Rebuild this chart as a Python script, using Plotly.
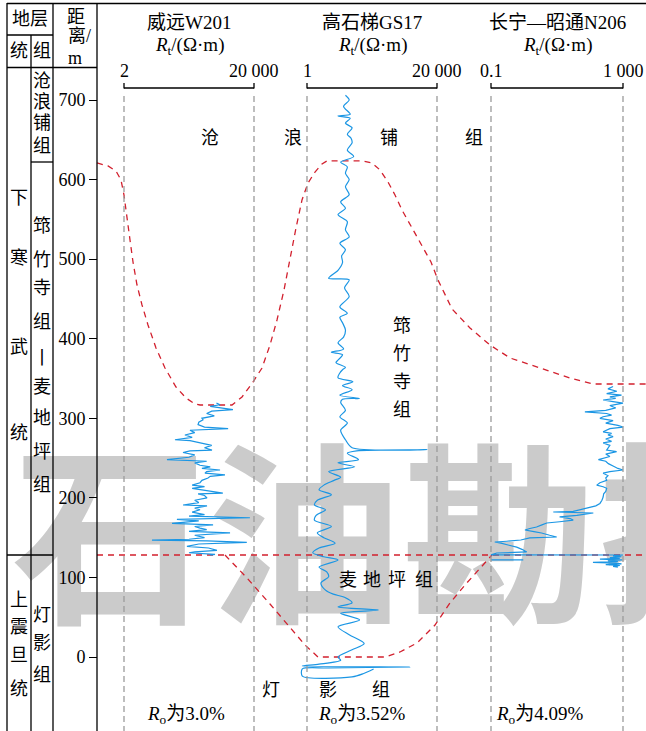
import math
import plotly.graph_objects as go

W, H = 646, 731

# ---------------- data ----------------
# Well logs: (depth in m, Rt in ohm·m)
W201 = [(319,1400),(317,1800),(315,900),(311,4500),(309,1000),(306,700),(303,1200),(300,500),(298,540),
        (295,400),(292,380),(289,600),(287,3200),(285,215),(282,300),(279,150),(276,250),(273,74),(272,215),
        (270,350),(268,500),(266,1000),(263,600),(260,1020),(259,215),(257,131),(254,300),(251,200),(248,42),
        (247,215),(246,700),(244,300),(241,436),(239,900),(237,500),(235,1800),(233,700),(231,620),(229,2560),
        (227,900),(225,770),(222,500),(219,436),(216,250),(214,600),(212,250),(209,800),(206,2200),(205,380),
        (203,600),(200,716),(197,300),(194,400),(191,131),(190,716),(187,300),(185,436),(182,250),(179,600),
        (177,200),(175,15000),(173,85),(171,400),(168,60),(166,1100),(164,300),(162,436),(160,700),(158,200),
        (156,3660),(153,300),(150,600),(148,200),(147,14.5),(146,716),(144,12000),(142,400),(139,173),(137,800),
        (134,1450),(132,300),(131,200),(129,1260),(128,900)]

GS17 = [(706,18.7),(700,24.9),(692,16.2),(682,27),(680,10.6),(677,27),(671,18.7),(665,31),(657,21.6),
        (652,28.7),(646,31),(637,21.6),(629,35),(622,13),(616,21.6),(608,18.7),(600,24.9),(591,18.7),
        (581,24.9),(572,13),(564,18.7),(556,10.6),(547,21.6),(537,18.7),(528,24.9),(520,12.2),(512,18.7),
        (504,14),(496,15),(486,10.6),(476,5.2),(474,24.9),(464,17.4),(453,24.9),(440,12.2),(432,21.6),
        (427,12.2),(420,15),(411,18.7),(402,16.2),(395,10.6),(387,16.2),(383,6.4),(380,15),(373,10.6),
        (370,9.1),(364,18.7),(361,15),(357,12.2),(351,10.6),(346,33),(341,15),(336,31),(329,12.2),(325,55),
        (324,15),(320,13),(310,18.7),(302,12.2),(294,21.6),(285,13),(273,18.7),(263,31),(260.5,9300),
        (259,44),(256,21.6),(248,50.8),(244,10.6),(239,38),(233,5.2),(226,13),(222,7.9),(216,3.6),(210,2.5),
        (204,6.4),(197,2.2),(191,1.77),(185,4.1),(178,2.0),(172,1.77),(164,6.4),(156,2.2),(150,3.6),
        (143,8.5),(137,2.5),(131,1.55),(126,3.6),(122,10.6),(113,2.5),(107,4.5),(101,5.2),(93,2.9),(84,4.1),
        (79,7.4),(75,17.4),(68,31),(63,10.6),(59,230),(55,13),(46.5,55),(38,10.6),(28,24.9),(17,78),(9,31),
        (0,10.6),(-4,13),(-9,2.5),(-11.3,0.7),(-12.6,2500),(-13.8,5.2),(-15,0.7),(-24,0.7),(-25,31),
        (-21,72),(-15,160)]

N206 = [(340,500),(337,350),(334,650),(331,320),(329,900),(327,400),(325,600),(323,250),(321,500),(319,1000),
        (316,400),(313,600),(310,300),(308,70),(306,320),(304,450),(302,250),(300,200),(297,500),(294,300),
        (291,700),(289,1000),(287,400),(285,300),(283,250),(281,450),(279,350),(277,500),(274,300),(271,450),
        (269,250),(266,400),(263,350),(260,320),(258,640),(255,300),(252,400),(250,250),(248,180),(246,300),
        (243,360),(240,500),(237,700),(235,1000),(233,400),(231,250),(228,350),(225,300),(222,320),(219,200),
        (216,160),(214,250),(212,320),(208,300),(205,260),(201,250),(197,230),(193,200),(190,150),(187,79),
        (185,45),(183,31),(182.2,7.7),(181,126),(178,40),(176,12),(174,25),(172,31),(170,12),(168.4,4.9),
        (166,3.5),(163.4,2.4),(161.5,1.5),(159.6,1.07),(157.5,2.0),(155.8,3.4),(153,6),(150.8,9.8),
        (149.6,1.5),(147,0.8),(145.5,0.3),(144.5,0.13),(143,0.2),(140.8,0.33),(138,0.6),(135,0.9),(132,1.2),
        (130.7,0.15),(129,0.11),(128.4,0.1),(128.2,1000),(127,500),(126,900),(125,400),(124,800),(123,200),
        (122,950),(121,350),(120,700),(119,123),(118,600),(117,900),(116,300),(115,800),(114,500),(113,700)]
N206_stub = [(122,0.1),(122,0.95)]

# Correlation boundaries along the section (section position 0-646, depth m)
top_qzs_x = [97,108,116,121,124,127,130,133,137,142,148,156,165,176,186,195,200,232,242,253,262,270,277,284,
             290,296,302,308,315,322,327,363,372,380,388,395,402,412,422,431,438,445,452,470,490,510,540,570,593,646]
top_qzs_d = [620.9,617.1,610.8,599.5,580.6,555.5,524.1,496.4,467.5,442.4,417.3,388.4,363.2,339.3,325.5,318.0,
             316.7,316.7,326.8,345.6,363.2,392.1,423.5,461.2,501.5,539.2,574.4,595.7,609.5,619.6,623.4,623.4,
             620.9,612.1,597.0,580.6,561.8,539.2,517.8,496.4,473.8,455.0,437.4,413.5,392.1,375.8,363.2,350.6,
             343.1,343.1]
top_dy_flat_x = [97, 646]
top_dy_flat_d = [128.2, 128.2]
top_dy_gs_x = [225,247,270,290,305,318,385,400,417,435,450,465,478,492]
top_dy_gs_d = [128.2,99.3,66.6,36.4,15.1,0,0,6.3,17.6,40.2,67.9,90.5,109.3,128.2]

tracks = [
    dict(name="威远W201", lo=2, hi=20000, L=124, R=254, lo_lbl="2", hi_lbl="20 000",
         ro="<i>R</i><sub>o</sub>为3.0%", data=W201, shape="linear"),
    dict(name="高石梯GS17", lo=1, hi=20000, L=307, R=437, lo_lbl="1", hi_lbl="20 000",
         ro="<i>R</i><sub>o</sub>为3.52%", data=GS17, shape="spline"),
    dict(name="长宁—昭通N206", lo=0.1, hi=1000, L=491, R=623, lo_lbl="0.1", hi_lbl="1 000",
         ro="<i>R</i><sub>o</sub>为4.09%", data=N206, shape="linear"),
]
depth_ticks = [0, 100, 200, 300, 400, 500, 600, 700]

# ---------------- layout helpers ----------------
Y0_PX, PX_PER_M = 657, 0.7957
y_range = [-(H - Y0_PX) / PX_PER_M, Y0_PX / PX_PER_M]
PAD = 14
FONT = "Liberation Serif, Noto Sans CJK SC"
BLUE = "#1b96e4"
RED = "#d2202e"
GRAY = "#9b9b9b"


def px(x):
    return x / W


def py(y):
    return 1 - y / H


fig = go.Figure()

# section axis "x" (first subplot -> drawn beneath the well tracks)
fig.add_trace(go.Scatter(x=[402], y=[(Y0_PX - 560) / PX_PER_M], mode="text", text=["石油勘探"],
                         textposition="middle center", xaxis="x", yaxis="y", hoverinfo="skip",
                         textfont=dict(size=195, color="#cbcbcb", family="Noto Sans CJK SC", weight="bold")))
for xs, ds in [(top_qzs_x, top_qzs_d), (top_dy_flat_x, top_dy_flat_d), (top_dy_gs_x, top_dy_gs_d)]:
    fig.add_trace(go.Scatter(x=xs, y=ds, mode="lines", xaxis="x", yaxis="y",
                             line=dict(color=RED, width=1.3, dash="6px,5px"), hoverinfo="skip"))

layout_axes = {"xaxis": dict(domain=[0, 1], range=[0, W], visible=False, anchor="y", fixedrange=True)}
shapes = []
annotations = []
for i, t in enumerate(tracks):
    ax = f"x{i+2}"
    axkey = f"xaxis{i+2}"
    lg0, lg1 = math.log10(t["lo"]), math.log10(t["hi"])
    ppd = (t["R"] - t["L"]) / (lg1 - lg0)
    layout_axes[axkey] = dict(type="log", domain=[px(t["L"] - PAD), px(t["R"] + PAD)],
                              range=[lg0 - PAD / ppd, lg1 + PAD / ppd], visible=False,
                              anchor="y", fixedrange=True)
    flo = PAD / (t["R"] - t["L"] + 2 * PAD)
    fhi = 1 - flo
    dref = f"{ax} domain"
    d, r = zip(*t["data"])
    line = dict(color=BLUE, width=1.2, shape=t["shape"])
    if t["shape"] == "spline":
        line["smoothing"] = 0.8
    fig.add_trace(go.Scatter(x=list(r), y=list(d), mode="lines", xaxis=ax, yaxis="y",
                             line=line, hoverinfo="skip"))
    if i == 2:
        d2, r2 = zip(*N206_stub)
        fig.add_trace(go.Scatter(x=list(r2), y=list(d2), mode="lines", xaxis=ax, yaxis="y",
                                 line=dict(color=BLUE, width=1.2), hoverinfo="skip"))
    # dashed track limits
    for f in (flo, fhi):
        shapes.append(dict(type="line", xref=dref, yref="paper", x0=f, x1=f, y0=py(96), y1=py(731),
                           line=dict(color=GRAY, width=1.3, dash="6px,4px")))
        shapes.append(dict(type="line", xref=dref, yref="paper", x0=f, x1=f, y0=py(83), y1=py(88.5),
                           line=dict(color="black", width=1.3)))
    shapes.append(dict(type="line", xref=dref, yref="paper", x0=flo, x1=fhi, y0=py(88), y1=py(88),
                       line=dict(color="black", width=1.3)))
    annotations += [
        dict(text=t["lo_lbl"], xref=dref, yref="paper", x=flo, y=py(71), size=18),
        dict(text=t["hi_lbl"], xref=dref, yref="paper", x=fhi, y=py(71), size=18),
        dict(text=t["name"], xref=dref, yref="paper", x=0.5, y=py(23), size=19),
        dict(text="<i>R</i><sub>t</sub>/(Ω·m)", xref=dref, yref="paper", x=0.5, y=py(46), size=19),
    ]

# Ro labels
for xx, t in zip([186, 362, 540], tracks):
    annotations.append(dict(text=t["ro"], xref="paper", yref="paper", x=px(xx), y=py(715), size=19))

# frame / stratigraphic column lines
BL = dict(color="black", width=1.3)
for (x0, y0, x1, y1) in [(7, 3.5, 646, 3.5), (7, 3, 7, 731), (31, 35, 31, 731), (53, 3, 53, 731),
                         (97, 3, 97, 731), (7, 35, 53, 35), (7, 67.5, 97, 67.5), (31, 162, 53, 162),
                         (7, 555, 53, 555)]:
    shapes.append(dict(type="line", xref="paper", yref="paper", x0=px(x0), x1=px(x1),
                       y0=py(y0), y1=py(y1), line=BL))

# column texts
col_text = [("地层", 30, 19), ("统", 19, 51), ("组", 42, 51), ("距", 76, 17), ("离/", 79, 36), ("m", 75, 58),
            ("沧", 42, 81), ("浪", 42, 102), ("铺", 42, 123), ("组", 42, 146),
            ("筇", 42, 226), ("竹", 42, 260), ("寺", 42, 288), ("组", 42, 322), ("丨", 42, 358),
            ("麦", 42, 387), ("地", 42, 418), ("坪", 42, 452), ("组", 42, 485),
            ("灯", 42, 615), ("影", 42, 643), ("组", 42, 675),
            ("下", 19, 198), ("寒", 19, 258), ("武", 19, 347), ("统", 19, 433),
            ("上", 19, 600), ("震", 19, 627), ("旦", 19, 655), ("统", 19, 689),
            # in-plot formation names
            ("沧", 210, 138), ("浪", 293, 138), ("铺", 389, 138), ("组", 474, 138),
            ("筇", 402, 326), ("竹", 402, 354), ("寺", 402, 382), ("组", 402, 410),
            ("麦", 348, 580), ("地", 372, 580), ("坪", 397, 580), ("组", 424, 580),
            ("灯", 271, 690), ("影", 328, 690), ("组", 381, 690)]
for txt, xx, yy in col_text:
    annotations.append(dict(text=txt, xref="paper", yref="paper", x=px(xx), y=py(yy), size=18))

for a in annotations:
    s = a.pop("size")
    a.update(showarrow=False, xanchor="center", yanchor="middle",
             font=dict(family=FONT, size=s, color="black"))

fig.update_layout(
    width=W, height=H, margin=dict(l=0, r=0, t=0, b=0),
    paper_bgcolor="white", plot_bgcolor="rgba(0,0,0,0)", showlegend=False,
    yaxis=dict(range=y_range, domain=[0, 1], anchor="free", position=px(97), side="left",
               tickvals=depth_ticks, ticks="outside", ticklen=8, tickwidth=1.3, tickcolor="black",
               showline=False, showgrid=False, zeroline=False, fixedrange=True,
               tickfont=dict(family=FONT, size=18, color="black")),
    shapes=shapes, annotations=annotations,
    **layout_axes,
)

fig.write_html("out.html")
